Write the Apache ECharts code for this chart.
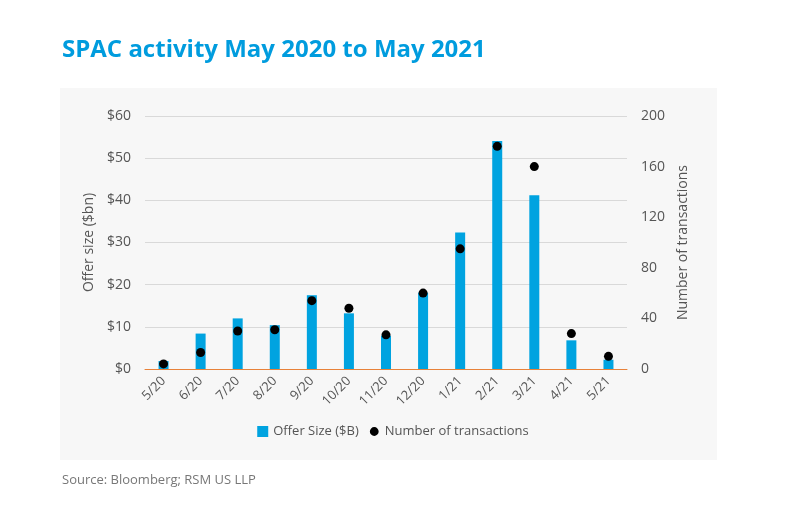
<!DOCTYPE html>
<html><head><meta charset="utf-8">
<script src="https://cdn.jsdelivr.net/npm/echarts@6/dist/echarts.min.js"></script>
<style>html,body{margin:0;padding:0;background:#fff}#c{width:786px;height:510px}</style>
</head><body><div id="c"></div>
<script>
const categories = ['5/20','6/20','7/20','8/20','9/20','10/20','11/20','12/20','1/21','2/21','3/21','4/21','5/21'];
const offerSize = [1.9, 8.4, 12.0, 10.4, 17.5, 13.2, 7.9, 18.1, 32.4, 54.1, 41.2, 6.8, 2.2];
const transactions = [4, 13, 30, 31, 54, 48, 27, 60, 95, 176, 160, 28, 10];
const leftTicks = [0, 10, 20, 30, 40, 50, 60];
const rightTicks = [0, 40, 80, 120, 160, 200];

const font = '"Open Sans", sans-serif';
const chart = echarts.init(document.getElementById('c'));
chart.setOption({
  backgroundColor: '#fff',
  textStyle: { fontFamily: font },
  title: [{
    text: 'SPAC activity May 2020 to May 2021',
    left: 57, top: 33,
    textStyle: { color: '#009cde', fontSize: 24, fontWeight: 'bold', fontFamily: font }
  }, {
    text: 'Source: Bloomberg; RSM US LLP',
    left: 57, top: 469,
    textStyle: { color: '#777', fontSize: 13, fontWeight: 'normal', fontFamily: font }
  }],
  graphic: [{
    type: 'rect', z: -10, silent: true,
    shape: { x: 60, y: 88, width: 657, height: 372 },
    style: { fill: '#f7f7f7' }
  }],
  legend: {
    bottom: 67, left: 'center',
    itemWidth: 11, itemHeight: 11, itemGap: 10,
    textStyle: { color: '#555', fontSize: 13, fontFamily: font },
    data: [{ name: 'Offer Size ($B)', icon: 'rect' },
           { name: 'Number of transactions', icon: 'path://M5,1A4,4,0,1,1,4.99,1Z M0,0 M10,10' }]
  },
  grid: { left: 145, right: 159, top: 116, bottom: 141 },
  xAxis: {
    type: 'category', data: categories,
    axisLine: { lineStyle: { color: '#e8823a', width: 1 } },
    axisTick: { show: false },
    axisLabel: { rotate: 45, color: '#555', fontSize: 13, margin: 10, fontFamily: font }
  },
  yAxis: [{
    type: 'value', min: leftTicks[0], max: leftTicks[leftTicks.length - 1], interval: 10,
    name: 'Offer size ($bn)', nameLocation: 'middle', nameGap: 47, nameRotate: 90,
    nameTextStyle: { color: '#555', fontSize: 14, fontFamily: font },
    axisLabel: { formatter: v => '$' + v, color: '#555', fontSize: 14, margin: 14, fontFamily: font },
    axisLine: { show: false }, axisTick: { show: false },
    splitLine: { lineStyle: { color: '#d9d9d9', width: 1 } }
  }, {
    type: 'value', min: rightTicks[0], max: rightTicks[rightTicks.length - 1], interval: 40,
    name: 'Number of transactions', nameLocation: 'middle', nameGap: 45, nameRotate: 90,
    nameTextStyle: { color: '#555', fontSize: 14, fontFamily: font },
    axisLabel: { color: '#555', fontSize: 14, margin: 14, fontFamily: font },
    axisLine: { show: false }, axisTick: { show: false },
    splitLine: { show: false }
  }],
  series: [{
    name: 'Offer Size ($B)', type: 'bar', data: offerSize, yAxisIndex: 0,
    barWidth: 10, itemStyle: { color: '#00a3e0' }
  }, {
    name: 'Number of transactions', type: 'scatter', data: transactions, yAxisIndex: 1,
    symbolSize: 9, itemStyle: { color: '#000', opacity: 1 }
  }]
});
</script></body></html>
